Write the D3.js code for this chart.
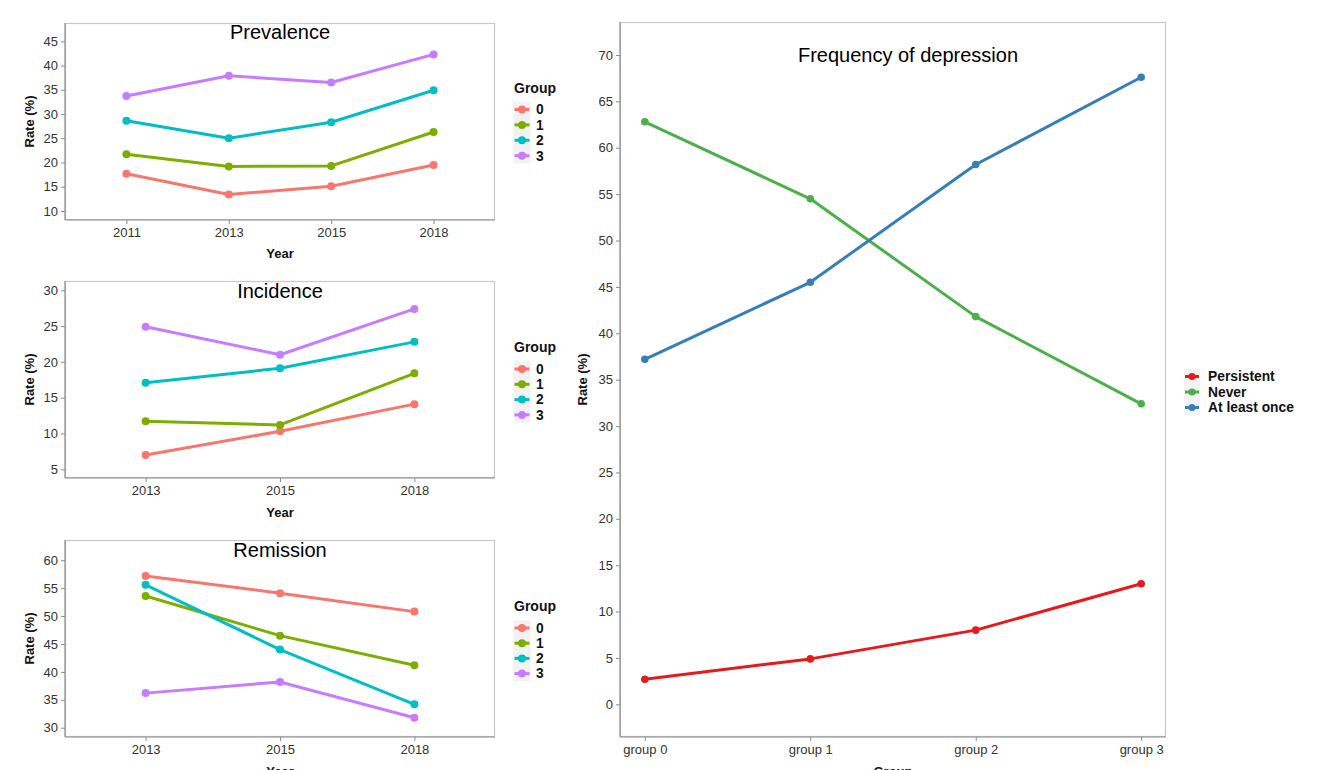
<!DOCTYPE html>
<html>
<head>
<meta charset="utf-8">
<script src="https://cdn.jsdelivr.net/npm/d3@7"></script>
<style>
  html, body { margin: 0; padding: 0; background: #fff; }
  svg { display: block; font-family: "Liberation Sans", Arial, sans-serif; }
</style>
</head>
<body>
<svg id="chart" width="1318" height="770"></svg>
<script>
// ---- data ----
const groupNames = ["0", "1", "2", "3"];
const groupColors = ["#F8766D", "#7CAE00", "#00BFC4", "#C77CFF"];

const prevalenceYears = ["2011", "2013", "2015", "2018"];
const prevalenceG0 = [17.7, 13.4, 15.1, 19.5];
const prevalenceG1 = [21.7, 19.2, 19.3, 26.3];
const prevalenceG2 = [28.6, 25.0, 28.3, 34.9];
const prevalenceG3 = [33.7, 37.9, 36.5, 42.3];
const prevalenceTicks = [10, 15, 20, 25, 30, 35, 40, 45];

const incidenceYears = ["2013", "2015", "2018"];
const incidenceG0 = [7.0, 10.3, 14.1];
const incidenceG1 = [11.7, 11.2, 18.4];
const incidenceG2 = [17.1, 19.1, 22.8];
const incidenceG3 = [24.9, 21.0, 27.4];
const incidenceTicks = [5, 10, 15, 20, 25, 30];

const remissionYears = ["2013", "2015", "2018"];
const remissionG0 = [57.2, 54.1, 50.8];
const remissionG1 = [53.6, 46.5, 41.2];
const remissionG2 = [55.6, 44.0, 34.2];
const remissionG3 = [36.2, 38.2, 31.8];
const remissionTicks = [30, 35, 40, 45, 50, 55, 60];

const freqGroups = ["group 0", "group 1", "group 2", "group 3"];
const freqNames = ["Persistent", "Never", "At least once"];
const freqColors = ["#E41A1C", "#4DAF4A", "#377EB8"];
const freqPersistent = [2.7, 4.9, 8.0, 13.0];
const freqNever = [62.8, 54.5, 41.8, 32.4];
const freqAtLeastOnce = [37.2, 45.5, 58.2, 67.6];
const freqTicks = [0, 5, 10, 15, 20, 25, 30, 35, 40, 45, 50, 55, 60, 65, 70];

const svg = d3.select("#chart");

function drawPanel(opt) {
  const { x0, x1, y0, y1, cats, series, colors, yDomain, ticks, title, xPad,
          lineW, ptR, titleY, xLabel, xLabelY, yLabelX } = opt;
  const g = svg.append("g");
  const x = d3.scalePoint().domain(cats).range([x0, x1]).padding(xPad);
  const y = d3.scaleLinear().domain(yDomain).range([y1, y0]);

  // panel border
  g.append("rect").attr("x", x0 + 0.5).attr("y", y0 + 0.5)
    .attr("width", x1 - x0 - 1).attr("height", y1 - y0 - 1)
    .attr("fill", "none").attr("stroke", "#c8c8c8").attr("stroke-width", 1.2);

  // axes
  const ya = g.append("g").attr("transform", `translate(${x0},0)`)
    .call(d3.axisLeft(y).tickValues(ticks).tickSize(4).tickPadding(3).tickSizeOuter(0));
  const xa = g.append("g").attr("transform", `translate(0,${y1})`)
    .call(d3.axisBottom(x).tickSize(4).tickPadding(4).tickSizeOuter(0));
  [ya, xa].forEach(a => {
    a.select(".domain").attr("stroke", "#8c8c8c").attr("stroke-width", 1.2);
    a.selectAll(".tick line").attr("stroke", "#8c8c8c");
    a.selectAll(".tick text").attr("fill", "#333").style("font-size", "13px");
  });
  ya.select(".domain").attr("d", `M0,${y0}V${y1}`);
  xa.select(".domain").attr("d", `M${x0},0H${x1}`);

  // lines and points
  const line = d3.line().x((d, i) => x(cats[i])).y(d => y(d));
  series.forEach((vals, s) => {
    g.append("path").datum(vals).attr("d", line)
      .attr("fill", "none").attr("stroke", colors[s])
      .attr("stroke-width", lineW).attr("stroke-linejoin", "round");
    g.selectAll(null).data(vals).enter().append("circle")
      .attr("cx", (d, i) => x(cats[i])).attr("cy", d => y(d))
      .attr("r", ptR).attr("fill", colors[s]);
  });

  // title
  g.append("text").attr("x", opt.titleX || (x0 + x1) / 2).attr("y", titleY)
    .attr("text-anchor", "middle").attr("fill", "#000")
    .style("font-size", "20px").text(title);

  // axis titles
  g.append("text").attr("x", (x0 + x1) / 2).attr("y", xLabelY)
    .attr("text-anchor", "middle").attr("fill", "#111")
    .style("font-size", "13px").style("font-weight", "bold").text(xLabel);
  g.append("text")
    .attr("transform", `translate(${yLabelX},${(y0 + y1) / 2}) rotate(-90)`)
    .attr("text-anchor", "middle").attr("fill", "#111")
    .style("font-size", "13px").style("font-weight", "bold").text("Rate (%)");
}

function drawLegend(opt) {
  const { keyX, textX, titleY, firstY, step, names, colors, title, lineW, ptR, keyW } = opt;
  const g = svg.append("g");
  if (title) {
    g.append("text").attr("x", keyX - 8).attr("y", titleY + 5)
      .attr("fill", "#111").style("font-size", "14px").style("font-weight", "bold").text(title);
  }
  g.append("rect").attr("x", keyX - keyW / 2).attr("y", firstY - step / 2)
    .attr("width", keyW).attr("height", step * names.length).attr("fill", "#f2f2f2");
  names.forEach((n, i) => {
    const cy = firstY + i * step;
    g.append("line").attr("x1", keyX - keyW / 2 + 1).attr("x2", keyX + keyW / 2 - 1)
      .attr("y1", cy).attr("y2", cy).attr("stroke", colors[i]).attr("stroke-width", lineW);
    g.append("circle").attr("cx", keyX).attr("cy", cy).attr("r", ptR).attr("fill", colors[i]);
    g.append("text").attr("x", textX).attr("y", cy + 4.8)
      .attr("fill", "#111").style("font-size", "13.8px").style("font-weight", "bold").text(n);
  });
}

// Prevalence
drawPanel({
  x0: 65, x1: 495, y0: 23, y1: 220, cats: prevalenceYears,
  series: [prevalenceG0, prevalenceG1, prevalenceG2, prevalenceG3], colors: groupColors,
  yDomain: [8.15, 48.77], ticks: prevalenceTicks, title: "Prevalence", xPad: 0.6,
  lineW: 3, ptR: 4, titleY: 39, xLabel: "Year", xLabelY: 258, yLabelX: 34
});
drawLegend({ keyX: 522, textX: 536, titleY: 88, firstY: 109.5, step: 15.4,
  names: groupNames, colors: groupColors, title: "Group", lineW: 3, ptR: 4, keyW: 17 });

// Incidence
drawPanel({
  x0: 65, x1: 495, y0: 281, y1: 478, cats: incidenceYears,
  series: [incidenceG0, incidenceG1, incidenceG2, incidenceG3], colors: groupColors,
  yDomain: [3.78, 31.3], ticks: incidenceTicks, title: "Incidence", xPad: 0.6,
  lineW: 3, ptR: 4, titleY: 298, xLabel: "Year", xLabelY: 517, yLabelX: 34
});
drawLegend({ keyX: 522, textX: 536, titleY: 347, firstY: 369, step: 15.3,
  names: groupNames, colors: groupColors, title: "Group", lineW: 3, ptR: 4, keyW: 17 });

// Remission
drawPanel({
  x0: 65, x1: 495, y0: 540, y1: 737, cats: remissionYears,
  series: [remissionG0, remissionG1, remissionG2, remissionG3], colors: groupColors,
  yDomain: [28.34, 63.63], ticks: remissionTicks, title: "Remission", xPad: 0.6,
  lineW: 3, ptR: 4, titleY: 557, xLabel: "Year", xLabelY: 776, yLabelX: 34
});
drawLegend({ keyX: 522, textX: 536, titleY: 606, firstY: 628, step: 15.2,
  names: groupNames, colors: groupColors, title: "Group", lineW: 3, ptR: 4, keyW: 17 });

// Frequency of depression
drawPanel({
  x0: 620, x1: 1166, y0: 22, y1: 737, cats: freqGroups,
  series: [freqPersistent, freqNever, freqAtLeastOnce], colors: freqColors,
  yDomain: [-3.52, 73.56], ticks: freqTicks, title: "Frequency of depression", xPad: 0.15,
  lineW: 3, ptR: 3.8, titleY: 62, titleX: 908, xLabel: "Group", xLabelY: 776, yLabelX: 587
});
drawLegend({ keyX: 1192, textX: 1208, titleY: null, firstY: 376.5, step: 15.5,
  names: freqNames, colors: freqColors, title: null, lineW: 3, ptR: 3.5, keyW: 16 });
</script>
</body>
</html>
